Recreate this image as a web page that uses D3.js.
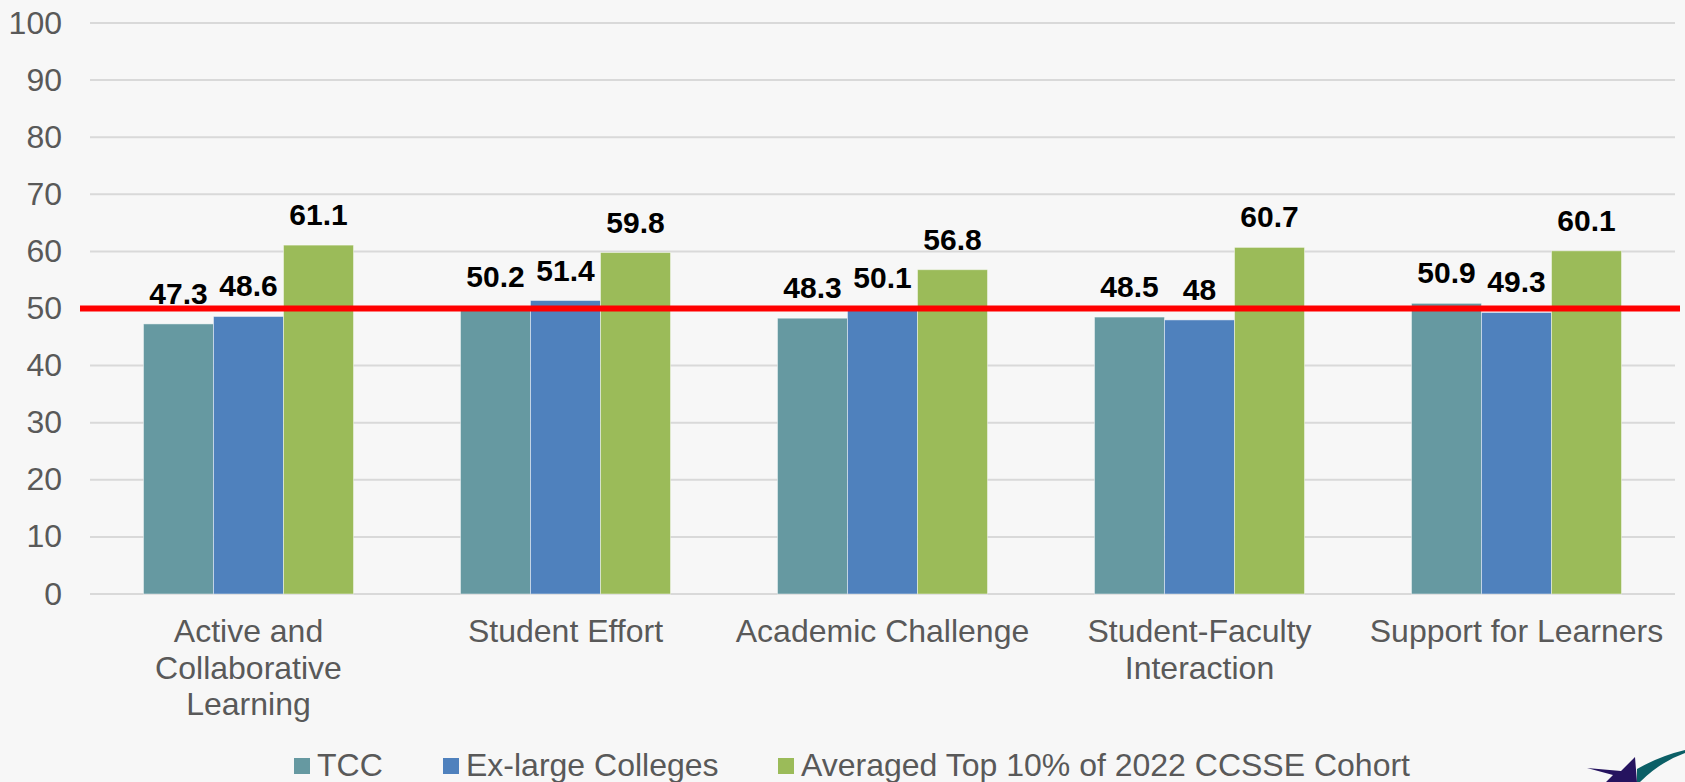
<!DOCTYPE html>
<html>
<head>
<meta charset="utf-8">
<script src="https://cdn.jsdelivr.net/npm/d3@7"></script>
<style>
  html, body { margin: 0; padding: 0; background: #f7f7f7; }
  svg { display: block; font-family: Arial, "Liberation Sans", sans-serif; }
</style>
</head>
<body>
<div id="chart"></div>
<script>
// chart data
var categories = [
  ['Active and', 'Collaborative', 'Learning'],
  ['Student Effort'],
  ['Academic Challenge'],
  ['Student-Faculty', 'Interaction'],
  ['Support for Learners']
];
var seriesNames = ['TCC', 'Ex-large Colleges', 'Averaged Top 10% of 2022 CCSSE Cohort'];
var tccValues = [47.3, 50.2, 48.3, 48.5, 50.9];
var exLargeValues = [48.6, 51.4, 50.1, 48, 49.3];
var top10Values = [61.1, 59.8, 56.8, 60.7, 60.1];
var yTicks = [0, 10, 20, 30, 40, 50, 60, 70, 80, 90, 100];
var benchmark = 50;

var width = 1685, height = 782;
var colours = ['#6699a1', '#4f81bd', '#9bbb59'];
var allSeries = [tccValues, exLargeValues, top10Values];

var svg = d3.select('#chart').append('svg')
  .attr('width', width)
  .attr('height', height);

svg.append('rect').attr('width', width).attr('height', height).attr('fill', '#f7f7f7');

var catKeys = categories.map(function(c) { return c.join(' '); });

var x0 = d3.scaleBand()
  .domain(catKeys)
  .range([90, 1675])
  .paddingInner(0.3375)
  .paddingOuter(0.16875);

var x1 = d3.scaleBand()
  .domain(seriesNames)
  .range([0, x0.bandwidth()]);

var y = d3.scaleLinear()
  .domain([0, 100])
  .range([594, 23]);

// gridlines
svg.append('g').selectAll('line')
  .data(yTicks)
  .join('line')
  .attr('x1', 90).attr('x2', 1675)
  .attr('y1', function(d) { return y(d); })
  .attr('y2', function(d) { return y(d); })
  .attr('stroke', '#d9d9d9')
  .attr('stroke-width', 2);

// y tick labels
svg.append('g').selectAll('text')
  .data(yTicks)
  .join('text')
  .attr('x', 62)
  .attr('y', function(d) { return y(d) + 10.5; })
  .attr('text-anchor', 'end')
  .attr('font-size', '32px')
  .attr('fill', '#595959')
  .text(function(d) { return d; });

// bars
var groups = svg.append('g').selectAll('g')
  .data(catKeys)
  .join('g')
  .attr('transform', function(d) { return 'translate(' + x0(d) + ',0)'; });

groups.selectAll('rect')
  .data(function(d, i) {
    return seriesNames.map(function(s, j) { return { s: s, j: j, v: allSeries[j][i] }; });
  })
  .join('rect')
  .attr('x', function(d) { return x1(d.s); })
  .attr('width', x1.bandwidth())
  .attr('y', function(d) { return y(d.v); })
  .attr('height', function(d) { return y(0) - y(d.v); })
  .attr('fill', function(d) { return colours[d.j]; })
  .attr('stroke', 'rgba(255,255,255,0.45)')
  .attr('stroke-width', 1);

// data labels
groups.selectAll('text.lbl')
  .data(function(d, i) {
    return seriesNames.map(function(s, j) { return { s: s, v: allSeries[j][i] }; });
  })
  .join('text')
  .attr('class', 'lbl')
  .attr('x', function(d) { return x1(d.s) + x1.bandwidth() / 2; })
  .attr('y', function(d) { return y(d.v) - 20; })
  .attr('text-anchor', 'middle')
  .attr('font-size', '30px')
  .attr('font-weight', 'bold')
  .attr('fill', '#000')
  .text(function(d) { return d.v; });

// category labels
var catLabels = svg.append('g').selectAll('text')
  .data(categories)
  .join('text')
  .attr('x', function(d, i) { return x0(catKeys[i]) + x0.bandwidth() / 2; })
  .attr('y', 642)
  .attr('text-anchor', 'middle')
  .attr('font-size', '32px')
  .attr('fill', '#595959');

catLabels.selectAll('tspan')
  .data(function(d) { return d; })
  .join('tspan')
  .attr('x', function() { return this.parentNode.getAttribute('x'); })
  .attr('dy', function(d, i) { return i === 0 ? 0 : 36.5; })
  .text(function(d) { return d; });

// benchmark line (drawn over labels, like the original)
svg.append('line')
  .attr('x1', 80).attr('x2', 1680)
  .attr('y1', y(benchmark)).attr('y2', y(benchmark))
  .attr('stroke', '#ff0000')
  .attr('stroke-width', 6);

// legend
var legendX = [294, 443, 778];
var legend = svg.append('g').selectAll('g')
  .data(seriesNames)
  .join('g')
  .attr('transform', function(d, i) { return 'translate(' + legendX[i] + ',0)'; });

legend.append('rect')
  .attr('x', 0).attr('y', 758)
  .attr('width', 16).attr('height', 16)
  .attr('fill', function(d, i) { return colours[i]; });

legend.append('text')
  .attr('x', 23)
  .attr('y', 776)
  .attr('font-size', '32px')
  .attr('fill', '#595959')
  .text(function(d) { return d; });

// logo fragment, bottom right corner
svg.append('path')
  .attr('d', 'M1587,768 L1621,771 L1635,757 L1637,782 L1606,782 L1613,775 Z')
  .attr('fill', '#25135f');
svg.append('path')
  .attr('d', 'M1637,769 Q1660,756 1685,750 L1685,753 Q1660,762 1640,782 L1637,782 Z')
  .attr('fill', '#0b5f66');
</script>
</body>
</html>
